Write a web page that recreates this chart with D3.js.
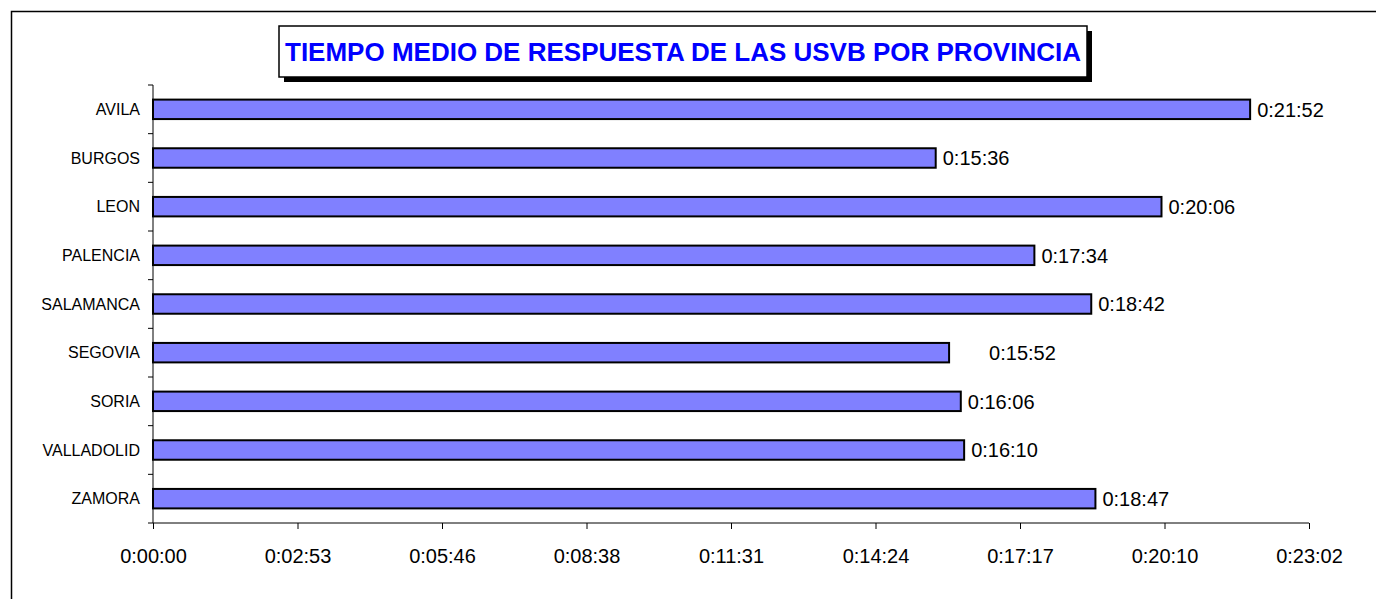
<!DOCTYPE html>
<html>
<head>
<meta charset="utf-8">
<script src="https://cdn.jsdelivr.net/npm/d3@7"></script>
<style>
  body { margin: 0; background: #fff; }
  svg { display: block; font-family: "Liberation Sans", Arial, sans-serif; }
</style>
</head>
<body>
<svg id="chart"></svg>
<script>
// Chart data (times in seconds)
const provinces = ["AVILA", "BURGOS", "LEON", "PALENCIA", "SALAMANCA", "SEGOVIA", "SORIA", "VALLADOLID", "ZAMORA"];
const responseTimes = [1312, 936, 1206, 1054, 1122, 952, 966, 970, 1127];
// Excel style ticks: steps of 0.002 day
const tickValues = [0, 172.8, 345.6, 518.4, 691.2, 864, 1036.8, 1209.6, 1382.4];
const titleText = "TIEMPO MEDIO DE RESPUESTA DE LAS USVB POR PROVINCIA";

// Labels that sit off their bar in the original
const labelNudge = { SEGOVIA: 33 };

const width = 1376;
const height = 599;
const margin = { top: 85, left: 153, right: 67, bottom: 76 };

const svg = d3.select("#chart")
    .attr("width", width)
    .attr("height", height);

// Outer frame (only top and left edges are inside the window)
svg.append("rect")
    .attr("x", 11.5).attr("y", 11.5)
    .attr("width", width).attr("height", height)
    .attr("fill", "none")
    .attr("stroke", "#000")
    .attr("stroke-width", 1.5);

// Format seconds as h:mm:ss
function fmtTime(s) {
    const t = Math.round(s);
    const h = Math.floor(t / 3600);
    const m = Math.floor((t % 3600) / 60);
    const sec = t % 60;
    return h + ":" + String(m).padStart(2, "0") + ":" + String(sec).padStart(2, "0");
}

const x = d3.scaleLinear()
    .domain([0, 1382.4])
    .range([margin.left, width - margin.right]);

const y = d3.scaleBand()
    .domain(provinces)
    .range([margin.top, height - margin.bottom])
    .paddingInner(0.6)
    .paddingOuter(0.3);

const data = provinces.map((p, i) => ({ name: p, value: responseTimes[i] }));

// Bars
svg.selectAll("rect.bar")
    .data(data)
    .enter()
    .append("rect")
    .attr("class", "bar")
    .attr("x", x(0))
    .attr("y", d => y(d.name))
    .attr("width", d => x(d.value) - x(0))
    .attr("height", y.bandwidth())
    .attr("fill", "#8080ff")
    .attr("stroke", "#000")
    .attr("stroke-width", 2);

// Value labels
svg.selectAll("text.value")
    .data(data)
    .enter()
    .append("text")
    .attr("class", "value")
    .attr("x", d => x(d.value) + 7 + (labelNudge[d.name] || 0))
    .attr("y", d => y(d.name) + y.bandwidth() / 2)
    .attr("dy", "0.36em")
    .attr("font-size", 20)
    .attr("fill", "#000")
    .text(d => fmtTime(d.value));

// Y axis: ticks on band boundaries
const yTop = margin.top, yBottom = height - margin.bottom;
const step = (yBottom - yTop) / provinces.length;
const yAxis = svg.append("g");
yAxis.append("line")
    .attr("x1", x(0)).attr("x2", x(0))
    .attr("y1", yTop).attr("y2", yBottom)
    .attr("stroke", "#000");
yAxis.selectAll("line.tick")
    .data(d3.range(provinces.length + 1))
    .enter()
    .append("line")
    .attr("class", "tick")
    .attr("x1", x(0) - 5).attr("x2", x(0))
    .attr("y1", i => yTop + i * step).attr("y2", i => yTop + i * step)
    .attr("stroke", "#000");
yAxis.selectAll("text")
    .data(provinces)
    .enter()
    .append("text")
    .attr("x", x(0) - 13)
    .attr("y", d => y(d) + y.bandwidth() / 2)
    .attr("dy", "0.36em")
    .attr("text-anchor", "end")
    .attr("font-size", 16)
    .attr("fill", "#000")
    .text(d => d);

// X axis
const xAxis = svg.append("g")
    .attr("transform", `translate(0,${yBottom})`)
    .call(d3.axisBottom(x).tickValues(tickValues).tickFormat(fmtTime).tickSize(6).tickPadding(20));
xAxis.select(".domain").attr("stroke", "#000").attr("d", `M${x(0)},0H${x(1382.4)}`);
xAxis.selectAll(".tick line").attr("stroke", "#000");
xAxis.selectAll(".tick text")
    .attr("font-size", 20)
    .attr("font-family", "'Liberation Sans', Arial, sans-serif")
    .attr("fill", "#000");

// Title box with shadow
const box = { x: 279, y: 26, w: 808, h: 51 };
svg.append("rect")
    .attr("x", box.x + 5).attr("y", box.y + 5)
    .attr("width", box.w).attr("height", box.h)
    .attr("fill", "#000");
svg.append("rect")
    .attr("x", box.x).attr("y", box.y)
    .attr("width", box.w).attr("height", box.h)
    .attr("fill", "#fff")
    .attr("stroke", "#000")
    .attr("stroke-width", 1.5);
svg.append("text")
    .attr("x", box.x + box.w / 2)
    .attr("y", box.y + box.h / 2)
    .attr("dy", "0.36em")
    .attr("text-anchor", "middle")
    .attr("font-size", 26)
    .attr("font-weight", "bold")
    .attr("fill", "#0000ff")
    .text(titleText);
</script>
</body>
</html>
